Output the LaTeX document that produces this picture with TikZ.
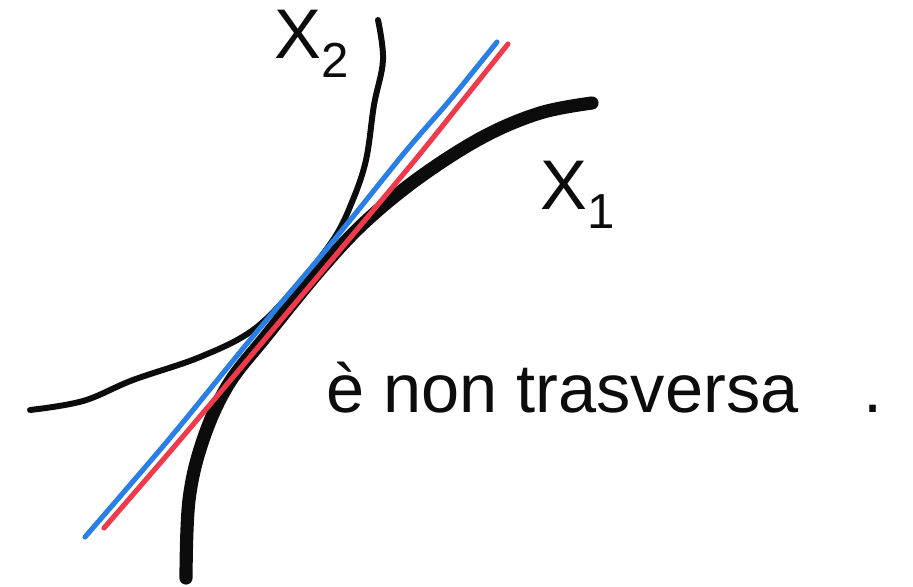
\documentclass[tikz,border=0pt]{standalone}
\usepackage{fontspec}
\setmainfont{Liberation Sans}
\usepackage{tikz}
\usetikzlibrary{positioning}
\definecolor{SketchBlue}{HTML}{2A7FE6}
\definecolor{SketchRed}{HTML}{F03A4C}
\definecolor{SketchBlack}{HTML}{0C0C0C}
\tikzset{
    % curve styles
    curve thin/.style={
        draw=SketchBlack,
        line width=3.4pt,
        line cap=round,
        line join=round
    },
    curve thick/.style={
        draw=SketchBlack,
        line width=7.5pt,
        line cap=round,
        line join=round
    },
    tangent blue/.style={
        draw=SketchBlue,
        line width=2.9pt,
        line cap=round
    },
    tangent red/.style={
        draw=SketchRed,
        line width=2.9pt,
        line cap=round
    },
    label text/.style={
        text=SketchBlack,
        inner sep=0pt,
        font=\fontsize{39}{46}\selectfont
    }
}
\begin{document}
\begin{tikzpicture}[x=0.02cm, y=-0.02cm]
        \useasboundingbox (0,0) rectangle (913,586);

        % X2
        \draw[curve thin] plot[smooth, tension=0.6] coordinates {
            (378,20) (383,60) (374,105) (366,160) (352,202) (333,240)
            (295,288) (253,330) (200,357) (133,380) (83,401) (30,410)};

        % X1
        \draw[curve thick] plot[smooth, tension=0.6] coordinates {
            (592,103) (540,113) (483,137) (420,177) (365,222) (320,270)
            (267,335) (228,385) (203,440) (189,500) (186,578)};

        % tangents
        \draw[tangent blue] plot[smooth, tension=0.5] coordinates {
            (497,42) (450,100) (405,152) (330,245) (250,340) (170,438) (85,537)};
        \draw[tangent red] plot[smooth, tension=0.5] coordinates {
            (508,44) (460,104) (415,160) (340,250) (260,345) (180,440) (104,528)};

        % labels
        \node[label text, font=\fontsize{40}{46}\selectfont] (x2) at (312,44) {X\textsubscript{2}};
        \node[label text, font=\fontsize{40}{46}\selectfont] (x1) at (578,195) {X\textsubscript{1}};
        \node[label text, anchor=base west] (remark) at (326,412) {è non trasversa\hspace{1.3cm}.};
    \end{tikzpicture}
\end{document}
